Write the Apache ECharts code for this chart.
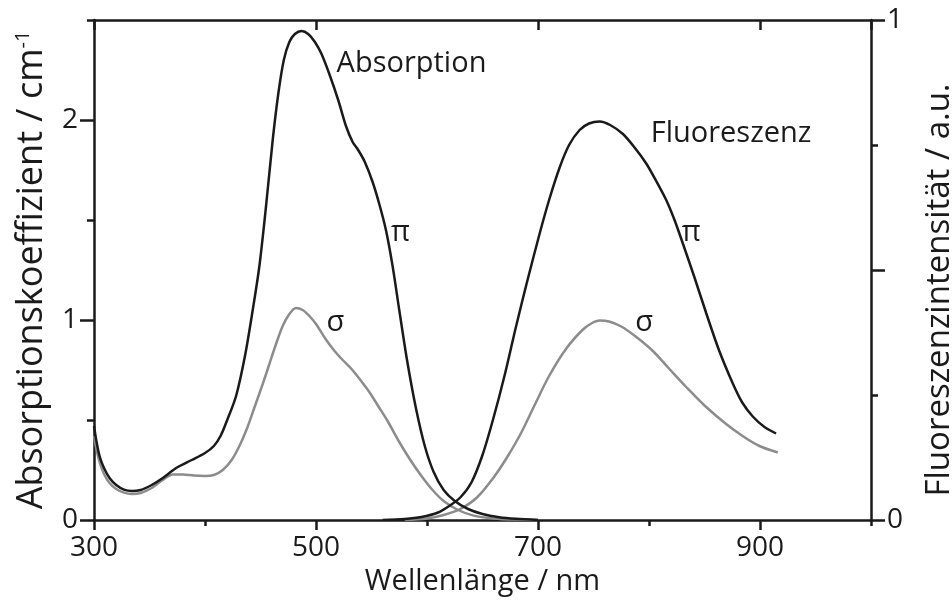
<!DOCTYPE html>
<html><head><meta charset="utf-8">
<script src="https://cdn.jsdelivr.net/npm/echarts@6/dist/echarts.min.js"></script>
<style>html,body{margin:0;padding:0;background:#fff}#c{width:952px;height:607px}</style>
</head><body><div id="c"></div>
<script>
// Absorption, pi polarisation (left axis, cm^-1)
const absPiWl = [300,302,305,309,314,320,327,334,342,352,362,374,388,400,408,414,420,428,436,443,449,455,461,466,471,476,481,487,493,499,505,512,520,527,533,538,544,551,557,563,569,575,582,590,598,606,615,625,637,650,665,680,700];
const absPiVal = [0.47,0.4,0.32,0.26,0.21,0.175,0.152,0.145,0.15,0.175,0.21,0.26,0.3,0.335,0.37,0.42,0.5,0.62,0.82,1.05,1.27,1.57,1.9,2.13,2.3,2.39,2.43,2.445,2.43,2.39,2.33,2.23,2.1,1.97,1.89,1.85,1.79,1.69,1.58,1.45,1.27,1.05,0.8,0.56,0.37,0.24,0.15,0.095,0.055,0.03,0.014,0.006,0.0];
// Absorption, sigma polarisation
const absSigWl = [300,302,305,309,314,320,327,334,342,352,362,371,380,390,400,408,416,424,431,438,445,452,458,464,470,476,482,488,494,500,508,516,524,532,540,548,556,565,575,585,595,605,615,628,642,660,680,700];
const absSigVal = [0.42,0.36,0.29,0.23,0.185,0.155,0.137,0.13,0.135,0.16,0.2,0.228,0.228,0.222,0.22,0.225,0.25,0.3,0.37,0.46,0.57,0.68,0.78,0.88,0.97,1.03,1.06,1.05,1.02,0.98,0.91,0.85,0.8,0.755,0.7,0.64,0.57,0.49,0.39,0.3,0.22,0.15,0.095,0.05,0.022,0.008,0.002,0.0];
// Fluorescence, pi (right axis, a.u.)
const flPiWl = [560,580,595,610,620,630,640,650,660,670,680,690,701.5,710,719.5,728,737.5,746,755.5,765,776.5,787,797.5,806,815.5,823,830.5,841,851.5,863,875.5,884,893.5,904,914.5];
const flPiVal = [0,0.002,0.006,0.015,0.028,0.045,0.075,0.13,0.205,0.29,0.385,0.475,0.573,0.64,0.705,0.75,0.78,0.793,0.797,0.79,0.772,0.745,0.713,0.68,0.64,0.6,0.553,0.485,0.414,0.34,0.273,0.235,0.207,0.186,0.173];
// Fluorescence, sigma
const flSigWl = [580,600,615,630,645,660,672,685,697,710,725.5,740,748,755.5,764,775,788,803.5,818,833.5,850,869.5,885,899.5,916];
const flSigVal = [0,0.003,0.01,0.022,0.045,0.085,0.125,0.175,0.23,0.288,0.343,0.38,0.393,0.399,0.397,0.387,0.367,0.338,0.303,0.266,0.229,0.192,0.167,0.148,0.135];
// Annotations (x in nm, y in left-axis units)
const annText = ['Absorption','Fluoreszenz','π','π','σ','σ'];
const annX = [519,802,568,830,510,788];
const annY = [2.28,1.93,1.435,1.435,0.985,0.985];

const xMajorLabels = [300,500,700,900];

const zip = (a,b) => a.map((v,i)=>[v,b[i]]);
const FONT = 'Open Sans';
const INK = '#1a1a1a';
const GREY = '#8c8c8c';
const axLine = {show:true, onZero:false, lineStyle:{color:INK, width:2.5}};
const tickStyle = {color:INK, width:2.5};

const chart = echarts.init(document.getElementById('c'), null, {renderer:'canvas'});
chart.setOption({
  animation:false,
  backgroundColor:'#fff',
  textStyle:{fontFamily:FONT},
  grid:{left:94, right:81, top:20, bottom:87, containLabel:false, outerBoundsMode:'none'},
  xAxis:[
    {type:'value', position:'bottom', min:300, max:1000, interval:200,
     axisLine:axLine, axisTick:{length:10, lineStyle:tickStyle},
     axisLabel:{showMaxLabel:false, fontSize:28, margin:14, color:INK, fontFamily:FONT,
       formatter:v=> xMajorLabels.includes(v) ? String(v) : ''},
     splitLine:{show:false},
     name:'Wellenlänge / nm', nameLocation:'middle', nameGap:46,
     nameTextStyle:{fontSize:29, color:INK, fontFamily:FONT}},
    {type:'value', position:'bottom', min:300, max:1000, interval:100,
     axisLine:{show:false}, axisTick:{length:6, lineStyle:tickStyle},
     axisLabel:{show:false}, splitLine:{show:false}},
    {type:'value', position:'top', min:300, max:1000, interval:200,
     axisLine:axLine, axisTick:{inside:true, length:10, lineStyle:tickStyle},
     axisLabel:{show:false}, splitLine:{show:false}},
    {type:'value', position:'top', min:300, max:1000, interval:100,
     axisLine:{show:false}, axisTick:{inside:true, length:6, lineStyle:tickStyle},
     axisLabel:{show:false}, splitLine:{show:false}}
  ],
  yAxis:[
    {type:'value', position:'left', min:0, max:2.5, interval:1,
     axisLine:axLine, axisTick:{length:14, lineStyle:tickStyle},
     axisLabel:{showMaxLabel:false, fontSize:28, margin:16, color:INK, fontFamily:FONT},
     splitLine:{show:false},
     name:'{t|Absorptionskoeffizient / cm}{s|-1}', nameLocation:'middle', nameGap:44,
     nameTextStyle:{color:INK, fontFamily:FONT, fontSize:36,
       rich:{t:{fontSize:36, color:INK, fontFamily:FONT},
             s:{fontSize:20, color:INK, fontFamily:FONT, verticalAlign:'top', padding:[0,0,17,0]}}}},
    {type:'value', position:'left', min:0, max:2.5, interval:0.5,
     axisLine:{show:false}, axisTick:{length:7, lineStyle:tickStyle},
     axisLabel:{show:false}, splitLine:{show:false}},
    {type:'value', position:'right', min:0, max:1, interval:0.5,
     axisLine:axLine, axisTick:{length:14, lineStyle:tickStyle},
     axisLabel:{fontSize:28, margin:16, color:INK, fontFamily:FONT,
       formatter:v=> (v===0||v===1) ? String(v) : ''},
     splitLine:{show:false},
     name:'Fluoreszenzintensität / a.u.', nameLocation:'middle', nameGap:52,
     nameTextStyle:{fontSize:33, color:INK, fontFamily:FONT, padding:[0,40,0,0]}},
    {type:'value', position:'right', min:0, max:1, interval:0.25,
     axisLine:{show:false}, axisTick:{length:7, lineStyle:tickStyle},
     axisLabel:{show:false}, splitLine:{show:false}}
  ],
  series:[
    {type:'line', name:'Abs π', xAxisIndex:0, yAxisIndex:0, data:zip(absPiWl,absPiVal),
     smooth:0.3, showSymbol:false, lineStyle:{color:INK, width:2.5}, z:3},
    {type:'line', name:'Abs σ', xAxisIndex:0, yAxisIndex:0, data:zip(absSigWl,absSigVal),
     smooth:0.3, showSymbol:false, lineStyle:{color:GREY, width:2.5}, z:2},
    {type:'line', name:'Fl π', xAxisIndex:0, yAxisIndex:2, data:zip(flPiWl,flPiVal),
     smooth:0.3, showSymbol:false, lineStyle:{color:INK, width:2.5}, z:3},
    {type:'line', name:'Fl σ', xAxisIndex:0, yAxisIndex:2, data:zip(flSigWl,flSigVal),
     smooth:0.3, showSymbol:false, lineStyle:{color:GREY, width:2.5}, z:2},
    {type:'scatter', name:'ann', xAxisIndex:0, yAxisIndex:0, symbolSize:1,
     itemStyle:{color:'rgba(0,0,0,0)'}, silent:true,
     data:annX.map((x,i)=>({value:[x,annY[i]], name:annText[i]})),
     label:{show:true, position:[0,0], align:'left', verticalAlign:'middle',
       formatter:p=>p.name, fontSize:29, color:INK, opacity:1,
       textBorderWidth:0, fontFamily:FONT}, z:5}
  ]
});
</script></body></html>
